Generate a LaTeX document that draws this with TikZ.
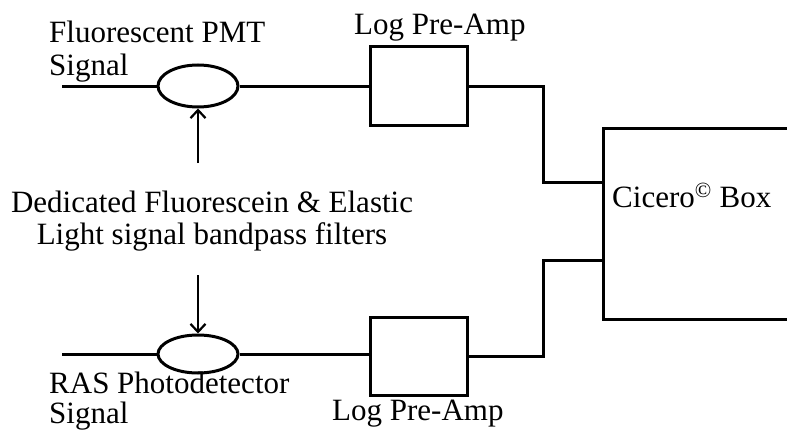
\documentclass[tikz,border=0pt]{standalone}
\usepackage{fontspec}
\setmainfont{Liberation Serif}
\usetikzlibrary{shapes.geometric,arrows.meta}
\tikzset{
  wire/.style={line width=3pt},
  lens/.style={ellipse,draw,line width=3pt,inner sep=0pt,minimum width=80pt},
  ampbox/.style={rectangle,draw,line width=3pt,inner sep=0pt,minimum width=97pt,minimum height=78pt},
  lbl/.style={inner sep=0pt,font=\fontsize{31}{32}\selectfont},
  feed/.style={line width=1.8pt,-{Straight Barb[length=8pt,width=15pt,line width=2.2pt]}}
}
\begin{document}
\begin{tikzpicture}[x=1pt,y=-1pt]
\useasboundingbox (0,0) rectangle (787,436);
\clip (0,0) rectangle (787,436);
% ellipses (filters)
\node[lens,minimum height=42pt] (e1) at (198,86) {};
\node[lens,minimum height=38pt] (e2) at (198,354) {};
% pre-amp boxes
\node[ampbox] (a1) at (418.5,86) {};
\node[ampbox] (a2) at (418.5,356) {};
% Cicero box (extends past the right edge)
\node[rectangle,draw,line width=3pt,inner sep=0pt,minimum width=240pt,minimum height=191pt,anchor=north west] (cb) at (602,127) {};
% free ends
\coordinate (in1) at (62,86);
\coordinate (in2) at (62,354);
\coordinate (f1) at (198,163);
\coordinate (f2) at (198,275);
% wires
\draw[wire] (in1) -- (e1.west);
\draw[wire] (e1.east) -- (a1.west);
\draw[wire] (in2) -- (e2.west);
\draw[wire] (e2.east) -- (a2.west |- e2.east);
\draw[wire] (a1.east) -- (543,86) -- (543,182) -- (cb.west |- 0,182);
\draw[wire] (a2.east) -- (543,356) -- (543,260) -- (cb.west |- 0,260);
% filter arrows
\draw[feed] (f1) -- (e1.south);
\draw[feed] (f2) -- (e2.north);
% labels
\node[lbl,anchor=base west] (t1) at (49,43) {Fluorescent PMT};
\node[lbl,anchor=base west] (t2) at (49,75) {Signal};
\node[lbl,anchor=base west] (t3) at (354,35) {Log Pre-Amp};
\node[lbl,anchor=base] (t4) at (212,212) {Dedicated Fluorescein \& Elastic};
\node[lbl,anchor=base] (t5) at (212,244) {Light signal bandpass filters};
\node[lbl,anchor=base west] (t6) at (49,393) {RAS Photodetector};
\node[lbl,anchor=base west] (t7) at (49,423) {Signal};
\node[lbl,anchor=base west] (t8) at (332,420) {Log Pre-Amp};
\node[lbl,anchor=base west] (t9) at (612,207) {Cicero\textsuperscript{©} Box};
\end{tikzpicture}
\end{document}
